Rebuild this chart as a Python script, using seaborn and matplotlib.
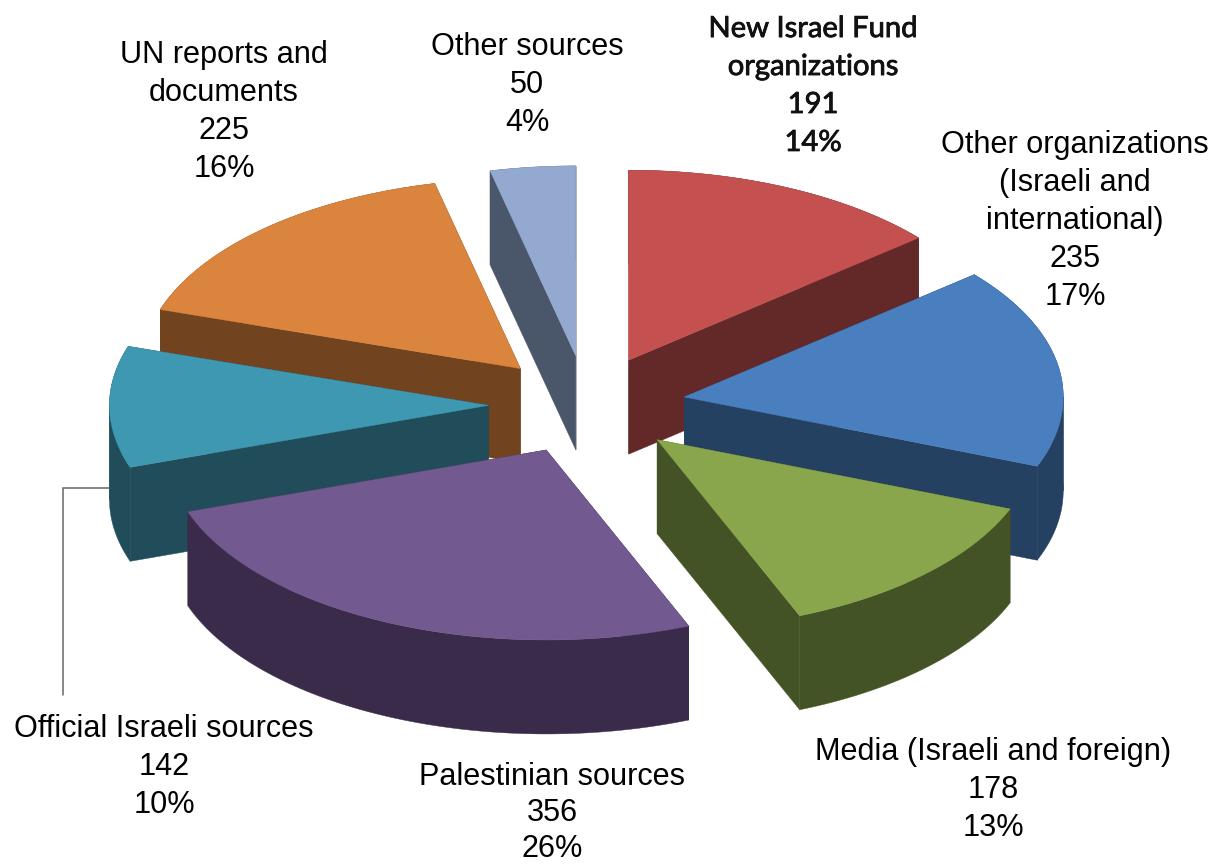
import numpy as np
import matplotlib
matplotlib.use('Agg')
import matplotlib.pyplot as plt
import matplotlib.patheffects as pe
from matplotlib.patches import Polygon
import seaborn as sns

# data, clockwise from 12 o'clock
names = ['New Israel Fund\norganizations', 'Other organizations\n(Israeli and\ninternational)',
         'Media (Israeli and foreign)', 'Palestinian sources', 'Official Israeli sources',
         'UN reports and\ndocuments', 'Other sources']
counts = [191, 235, 178, 356, 142, 225, 50]
percents = [14, 17, 13, 26, 10, 16, 4]

top_colors = ['#C4504F', '#4A7FBF', '#8AA64D', '#725990', '#3F98B2', '#DB843D', '#93A9CF']
side_colors = ['#632828', '#244162', '#445326', '#3A2B4A', '#214D5A', '#71431F', '#4A5669']

W, H = 1217, 864
cx, cy = 587, 405    # pie centre in pixels
rx, ry = 379, 190    # pixels per data unit
depth = 94 / ry
explode = 0.26

sns.set_theme(style='white')
plt.rcParams['font.family'] = ['Liberation Sans', 'DejaVu Sans']

fig = plt.figure(figsize=(W / 100, H / 100), dpi=100)
ax = fig.add_axes([0, 0, 1, 1])
# axes limits make the unit circle land on the flattened ellipse
ax.set_xlim(-cx / rx, (W - cx) / rx)
ax.set_ylim((cy - H) / ry, cy / ry)
ax.set_axis_off()

top = sns.color_palette(top_colors)
side = sns.color_palette(side_colors)

edges = np.deg2rad(np.cumsum([0] + counts) / sum(counts) * 360)
mids = (edges[:-1] + edges[1:]) / 2
tip_x = explode * np.sin(mids)
tip_y = explode * np.cos(mids)


def rim(ta, tb, i):
    t = np.linspace(ta, tb, 80)
    return np.column_stack([tip_x[i] + np.sin(t), tip_y[i] + np.cos(t)])


# back to front
for i in np.argsort(-tip_y):
    a, b = edges[i], edges[i + 1]
    tip = np.array([tip_x[i], tip_y[i]])
    down = np.array([0, depth])
    # split the rim where the ellipse turns, it folds over itself otherwise
    stops = [a] + [s for s in (np.pi / 2, 3 * np.pi / 2) if a < s < b] + [b]
    for ta, tb in zip(stops[:-1], stops[1:]):
        arc = rim(ta, tb, i)
        ax.add_patch(Polygon(np.vstack([arc, (arc - down)[::-1]]), fc=side[i], ec=side[i], lw=0.3))
    arc = rim(a, b, i)
    for end in (arc[0], arc[-1]):
        ax.add_patch(Polygon([tip, end, end - down, tip - down], fc=side[i], ec=side[i], lw=0.3))
    ax.add_patch(Polygon(np.vstack([tip, arc]), fc=top[i], ec=top[i], lw=0.3))


def px(x, y):
    return (x - cx) / rx, (cy - y) / ry


# leader line to the teal slice
lead = np.array([px(109, 488), px(63, 488), px(63, 695)])
ax.plot(lead[:, 0], lead[:, 1], color='#666666', lw=1.1, solid_joinstyle='miter')

label_pos = [(813, 86), (1075, 221), (993, 790), (552, 813), (164, 767), (224, 112), (527, 85)]
for i, (name, pos) in enumerate(zip(names, label_pos)):
    s = f'{name}\n{counts[i]}\n{percents[i]}%'
    lx, ly = px(*pos)
    if i == 0:
        txt = ax.text(lx, ly, s, ha='center', va='center', ma='center', fontsize=21, color='#111111',
                      family=['Lato', 'DejaVu Sans'], linespacing=1.57)
        txt.set_path_effects([pe.withStroke(linewidth=0.6, foreground='#111111')])
    else:
        ax.text(lx, ly, s, ha='center', va='center', ma='center', fontsize=22.1, color='black',
                linespacing=1.27 if i == 3 else 1.35)

fig.savefig('out.png', dpi=100, facecolor='white')
